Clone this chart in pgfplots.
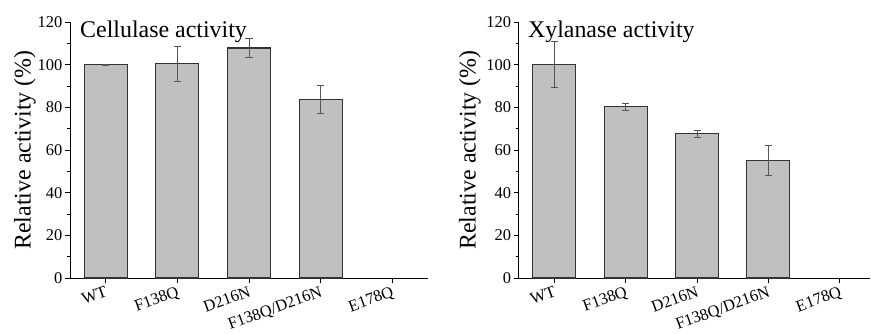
\documentclass[border=0pt]{standalone}
\usepackage{pgfplots}
\pgfplotsset{compat=1.18}
\usepackage{fontspec}
\setmainfont{Liberation Serif}
\definecolor{barfill}{HTML}{C0C0C0}
\definecolor{baredge}{HTML}{333333}
\definecolor{errc}{HTML}{555555}
\pgfplotsset{
  panel/.style={
    scale only axis,
    height=256bp,
    ymin=0, ymax=120,
    xmin=-0.5,
    axis lines*=left,
    axis line style={black, line width=0.8bp},
    ytick={0,20,...,120},
    minor y tick num=1,
    xtick={0,1,2,3,4},
    xticklabels={WT,F138Q,D216N,F138Q/D216N,E178Q},
    tick align=outside,
    major tick length=5bp,
    minor tick length=3bp,
    tick style={black, line width=0.8bp},
    /pgf/number format/assume math mode=true,
    ticklabel style={font=\fontsize{16.5}{19}\selectfont},
    yticklabel style={inner sep=2.5bp},
    xticklabel style={rotate=20, anchor=north east, inner sep=2bp},
    ylabel={Relative activity (\%)},
    ylabel style={font=\fontsize{24}{28}\selectfont, anchor=center},
    ybar, bar width=43bp,
    clip=false,
  },
  bars/.style={
    fill=barfill, draw=baredge, line width=1.1bp,
    error bars/.cd, y dir=both, y explicit,
    error bar style={color=errc, line width=0.7bp},
    error mark options={rotate=90, mark size=3.5bp, color=errc, line width=0.7bp},
  }
}
\begin{document}
\begin{tikzpicture}
\useasboundingbox (0,0) rectangle (871bp,334bp);
\begin{axis}[panel, at={(70bp,56bp)}, anchor=south west, width=358bp, xmax=4.5,
  ylabel style={at={(axis description cs:-0.126,0.5)}}]
% E178Q: 0 (no visible bar)
\addplot[bars] coordinates {
  (0,100.0) +- (0,0.3)
  (1,100.6) +- (0,8.2)
  (2,107.8) +- (0,4.6)
  (3,83.7)  +- (0,6.5)
};
\node[anchor=base west, font=\fontsize{24}{28}\selectfont, inner sep=0pt] at (axis description cs:0.028,0.941) {Cellulase activity};
\end{axis}
\begin{axis}[panel, at={(518.7bp,56bp)}, anchor=south west, width=351bp, xmax=4.42,
  ylabel style={at={(axis description cs:-0.139,0.5)}}]
% E178Q: 0 (no visible bar)
\addplot[bars] coordinates {
  (0,100.0) +- (0,10.7)
  (1,80.3)  +- (0,1.6)
  (2,67.6)  +- (0,1.5)
  (3,55.0)  +- (0,7.0)
};
\node[anchor=base west, font=\fontsize{24}{28}\selectfont, inner sep=0pt] at (axis description cs:0.026,0.941) {Xylanase activity};
\end{axis}
\end{tikzpicture}
\end{document}
